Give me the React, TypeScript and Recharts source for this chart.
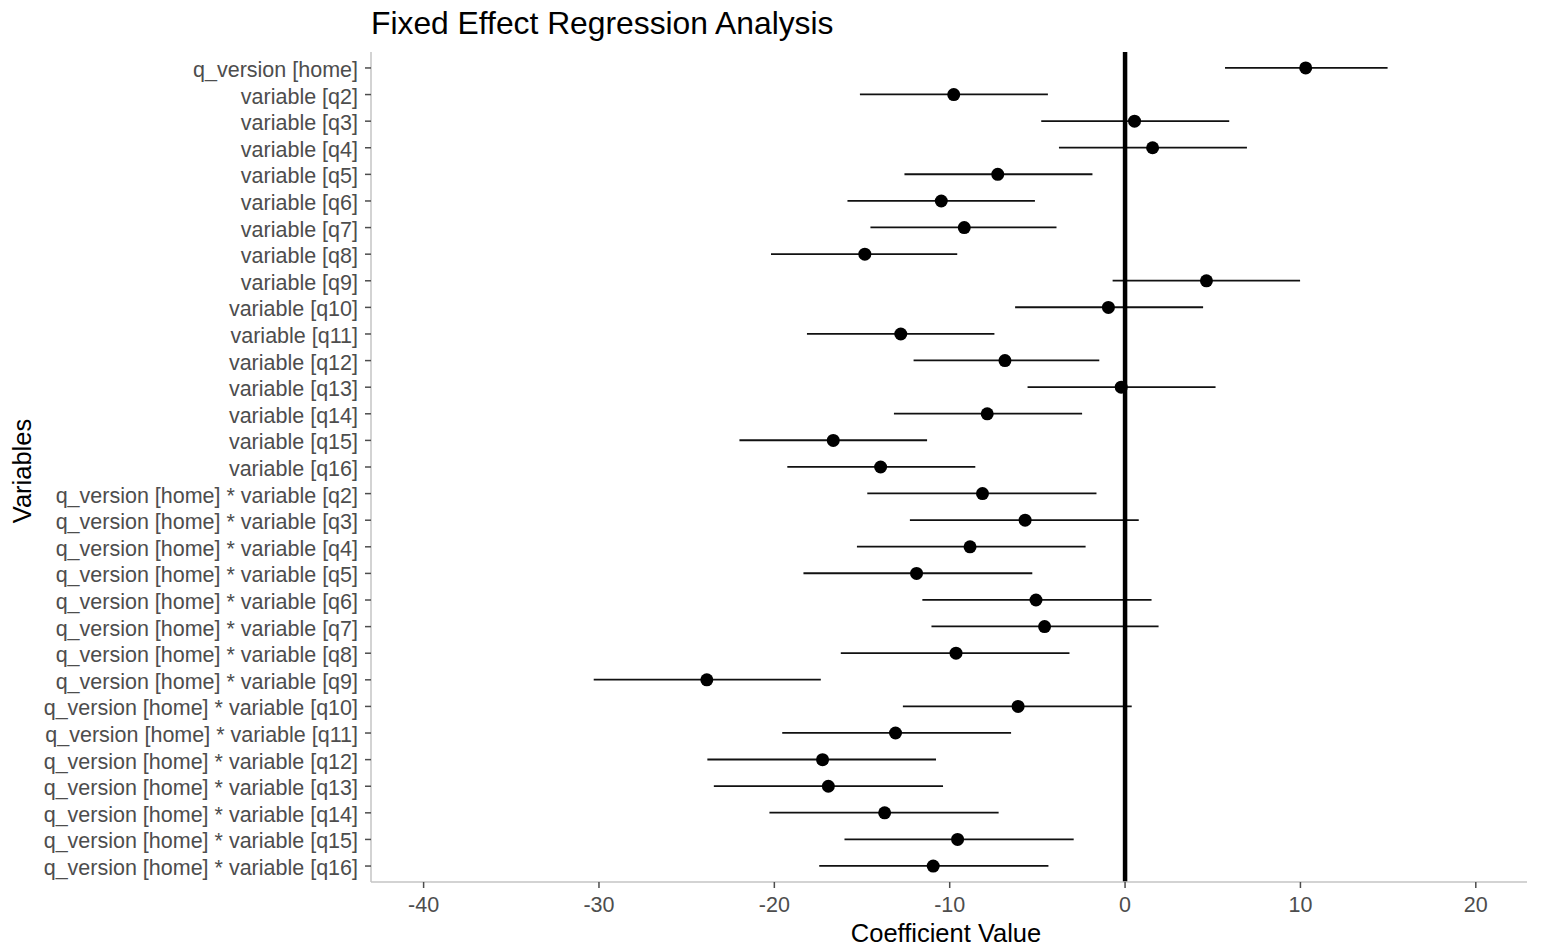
import React from 'react';
import { ComposedChart, Bar, Line, XAxis, YAxis, ReferenceLine, Label } from 'recharts';

const terms = [
  'q_version [home]',
  'variable [q2]', 'variable [q3]', 'variable [q4]', 'variable [q5]', 'variable [q6]',
  'variable [q7]', 'variable [q8]', 'variable [q9]', 'variable [q10]', 'variable [q11]',
  'variable [q12]', 'variable [q13]', 'variable [q14]', 'variable [q15]', 'variable [q16]',
  'q_version [home] * variable [q2]', 'q_version [home] * variable [q3]',
  'q_version [home] * variable [q4]', 'q_version [home] * variable [q5]',
  'q_version [home] * variable [q6]', 'q_version [home] * variable [q7]',
  'q_version [home] * variable [q8]', 'q_version [home] * variable [q9]',
  'q_version [home] * variable [q10]', 'q_version [home] * variable [q11]',
  'q_version [home] * variable [q12]', 'q_version [home] * variable [q13]',
  'q_version [home] * variable [q14]', 'q_version [home] * variable [q15]',
  'q_version [home] * variable [q16]',
];

const estimates = [
  10.30, -9.77, 0.54, 1.57, -7.26, -10.48, -9.17, -14.84, 4.64, -0.95, -12.79,
  -6.85, -0.22, -7.86, -16.64, -13.94, -8.13, -5.70, -8.84, -11.89, -5.08, -4.59,
  -9.64, -23.85, -6.10, -13.09, -17.25, -16.92, -13.71, -9.55, -10.94,
];

const lower = [
  5.70, -15.12, -4.78, -3.77, -12.58, -15.83, -14.52, -20.19, -0.71, -6.27, -18.14,
  -12.06, -5.56, -13.18, -21.99, -19.26, -14.70, -12.27, -15.29, -18.34, -11.56, -11.04,
  -16.21, -30.30, -12.67, -19.55, -23.82, -23.45, -20.28, -16.00, -17.44,
];

const upper = [
  14.97, -4.40, 5.94, 6.95, -1.86, -5.14, -3.91, -9.57, 9.98, 4.45, -7.45,
  -1.47, 5.16, -2.45, -11.29, -8.54, -1.63, 0.78, -2.25, -5.29, 1.51, 1.91,
  -3.17, -17.35, 0.38, -6.50, -10.78, -10.38, -7.21, -2.93, -4.37,
];

const xTicks = [-40, -30, -20, -10, 0, 10, 20];

const data = terms.map((term, i) => ({
  term,
  est: estimates[i],
  ci: [lower[i], upper[i]],
}));

const FONT = '"Liberation Sans", Arial, Helvetica, sans-serif';

// horizontal interval line drawn through the middle of each row
const IntervalShape = (props: any) => {
  const { x, y, width, height } = props;
  const x1 = Math.min(x, x + width);
  const x2 = Math.max(x, x + width);
  const cy = y + height / 2;
  return <line x1={x1} x2={x2} y1={cy} y2={cy} stroke="#111" strokeWidth={1.8} />;
};

const PointDot = (props: any) => {
  const { cx, cy, index } = props;
  if (cx == null || cy == null) return null;
  return <circle key={`pt-${index}`} cx={cx} cy={cy} r={6.5} fill="#000" />;
};

const TermTick = (props: any) => {
  const { x, y, payload } = props;
  return (
    <text x={x} y={y + 2} textAnchor="end" dominantBaseline="central" fill="#4d4d4d" fontSize={21.5}>
      {payload.value}
    </text>
  );
};

export default function App() {
  return (
    <div style={{ position: 'absolute', left: 0, top: 0, width: 1543, height: 950, background: '#fff', fontFamily: FONT }}>
      <div
        style={{
          position: 'absolute',
          left: 371,
          top: 8,
          fontSize: 31.8,
          lineHeight: '30px',
          color: '#000',
          whiteSpace: 'nowrap',
        }}
      >
        Fixed Effect Regression Analysis
      </div>
      <ComposedChart
        width={1543}
        height={950}
        data={data}
        layout="vertical"
        margin={{ top: 52, right: 16, bottom: 0, left: 0 }}
        style={{ fontFamily: FONT }}
      >
        <XAxis
          type="number"
          domain={[-43, 22.92]}
          ticks={xTicks}
          allowDataOverflow
          height={68}
          tickSize={6}
          tickMargin={9}
          axisLine={{ stroke: '#c4c4c4', strokeWidth: 1.5 }}
          tickLine={{ stroke: '#4d4d4d', strokeWidth: 1.5 }}
          tick={{ fill: '#4d4d4d', fontSize: 21.5 }}
        >
          <Label
            content={(p: any) => {
              const vb = p.viewBox || {};
              return (
                <text
                  x={vb.x + vb.width / 2 - 3}
                  y={942}
                  textAnchor="middle"
                  fontSize={25.5}
                  fill="#000"
                >
                  Coefficient Value
                </text>
              );
            }}
          />
        </XAxis>
        <YAxis
          type="category"
          dataKey="term"
          width={371}
          interval={0}
          padding={{ top: 2.66, bottom: 2.66 }}
          tickSize={6}
          tickMargin={7}
          axisLine={{ stroke: '#c4c4c4', strokeWidth: 1.5 }}
          tickLine={{ stroke: '#4d4d4d', strokeWidth: 1.5 }}
          tick={<TermTick />}
        >
          <Label
            content={(p: any) => {
              const vb = p.viewBox || {};
              const cy = vb.y + vb.height / 2 + 4;
              return (
                <text
                  x={31}
                  y={cy}
                  transform={`rotate(-90, 31, ${cy})`}
                  textAnchor="middle"
                  fontSize={25.5}
                  fill="#000"
                >
                  Variables
                </text>
              );
            }}
          />
        </YAxis>
        <ReferenceLine x={0} stroke="#000" strokeWidth={4.5} />
        <Bar dataKey="ci" shape={<IntervalShape />} isAnimationActive={false} />
        <Line
          dataKey="est"
          stroke="none"
          dot={PointDot}
          activeDot={false}
          isAnimationActive={false}
        />
      </ComposedChart>
    </div>
  );
}
